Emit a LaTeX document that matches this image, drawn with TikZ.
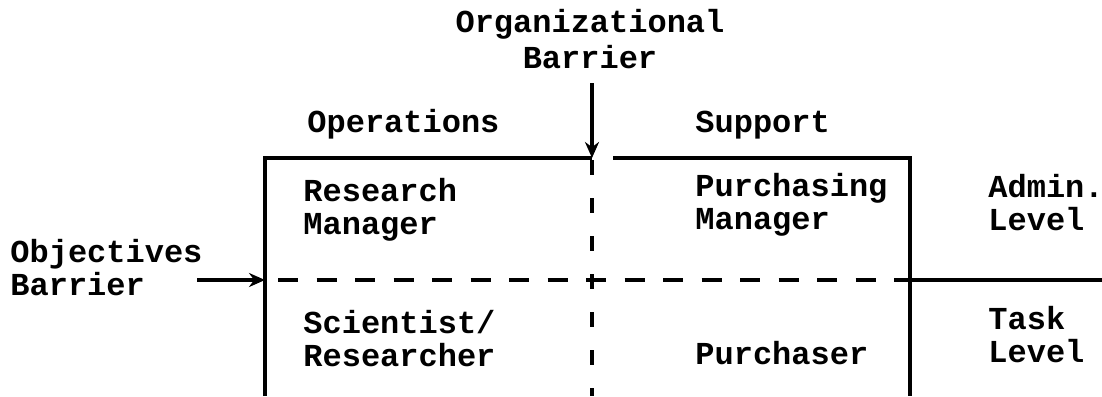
\documentclass[tikz,border=0pt]{standalone}
\usepackage{fontspec}
\setmainfont{Liberation Mono}
\usetikzlibrary{arrows.meta}
\begin{document}
\begin{tikzpicture}[x=0.5pt,y=-0.5pt,
  lbl/.style={anchor=base west,inner sep=0pt,align=left,
    font=\fontsize{16}{16.5}\selectfont\bfseries},
  rule/.style={line width=1.7pt},
  hdash/.style={rule,dash pattern=on 10pt off 9.25pt,dash phase=12.75pt},
  vdash/.style={rule,dash pattern=on 7.5pt off 11.5pt,dash phase=18pt},
  barrier/.style={rule,-{Stealth[length=8pt,width=7pt]}}]
\useasboundingbox (0,0) rectangle (1102,396);

% grid corners and crossing points
\coordinate (tl) at (265,158);
\coordinate (tm) at (592,158);
\coordinate (tr2) at (613,158);
\coordinate (tr) at (910,158);
\coordinate (ml) at (265,280);
\coordinate (mr) at (910,280);
\coordinate (me) at (1102,280);
\coordinate (bl) at (265,396);
\coordinate (bm) at (592,396);
\coordinate (br) at (910,396);
\coordinate (orgstart) at (592,83);
\coordinate (objstart) at (197,280);

% frame
\draw[rule] (bl) -- (tl) -- (tm);
\draw[rule] (tr2) -- (tr) -- (br);
\draw[rule] (mr) -- (me);
% dashed dividers
\draw[hdash] (ml) -- (mr);
\draw[vdash] (tm) -- (bm);

% barrier arrows
\draw[barrier] (orgstart) -- (tm);
\draw[barrier] (objstart) -- (ml);

% labels (multi-line nodes sit on the baseline of their last line)
\node[lbl,anchor=base,align=center,
  font=\fontsize{16}{17.5}\selectfont\bfseries] (org) at (590,68) {Organizational\\Barrier};
\node[lbl] (ops) at (307,132) {Operations};
\node[lbl] (sup) at (695,132) {Support};
\node[lbl] (rm) at (303,234) {Research\\Manager};
\node[lbl] (pm) at (695,229) {Purchasing\\Manager};
\node[lbl] (adm) at (988,230) {Admin.\\Level};
\node[lbl] (obj) at (10,295) {Objectives\\Barrier};
\node[lbl] (sci) at (303,366) {Scientist/\\Researcher};
\node[lbl] (pur) at (695,364) {Purchaser};
\node[lbl] (task) at (988,362) {Task\\Level};
\end{tikzpicture}
\end{document}
